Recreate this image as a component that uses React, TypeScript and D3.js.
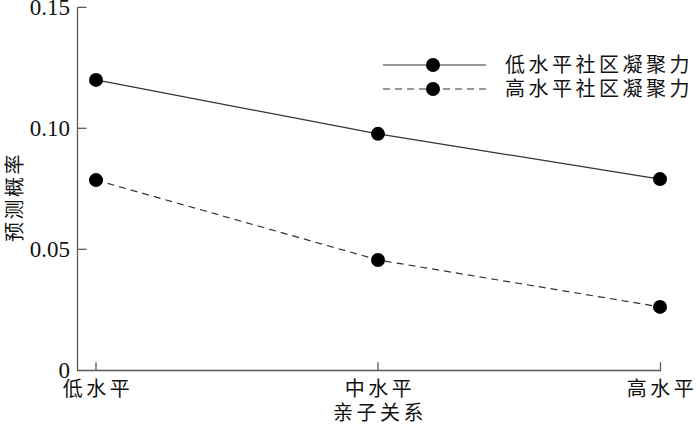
import React from "react";
import * as d3 from "d3";

const categories = ["低水平", "中水平", "高水平"];
const seriesNames = ["低水平社区凝聚力", "高水平社区凝聚力"];
const lowCohesion = [0.12, 0.0977, 0.079];
const highCohesion = [0.0786, 0.0456, 0.0262];
const yTicks = [0, 0.05, 0.1, 0.15];
const yTickLabels = ["0", "0.05", "0.10", "0.15"];
const xTitle = "亲子关系";
const yTitle = "预测概率";

const W = 700;
const H = 426;
const axisColor = "#5a5a5a";
const cjk = "'Noto Sans CJK SC', sans-serif";
const serif = "'Liberation Serif', 'DejaVu Serif', serif";

export default function App() {
  const x = d3.scalePoint<string>().domain(categories).range([96, 660]);
  const y = d3.scaleLinear().domain([0, 0.15]).range([370.3, 7.3]);
  const axisLeft = 77.5;
  const axisRight = 660.5;
  const line = d3
    .line<number>()
    .x((_, i) => x(categories[i]) as number)
    .y((d) => y(d));
  const series = [
    { name: seriesNames[0], values: lowCohesion, dash: undefined as string | undefined },
    { name: seriesNames[1], values: highCohesion, dash: "7,5" },
  ];
  return (
    <svg
      width={W}
      height={H}
      style={{ position: "absolute", left: 0, top: 0, background: "#fff" }}
    >
      <rect width={W} height={H} fill="#fff" />
      {/* axes */}
      <path
        d={`M${axisLeft},${y(0.15)}H${axisLeft + 9}M${axisLeft},${y(0.15)}V${y(0) + 0.2}H${axisRight}V${y(0) - 8}`}
        fill="none"
        stroke={axisColor}
        strokeWidth={1.3}
      />
      {yTicks.map((t, i) => (
        <g key={t}>
          {i > 0 && i < yTicks.length - 1 && (
            <line x1={axisLeft} x2={axisLeft + 9} y1={y(t)} y2={y(t)} stroke={axisColor} strokeWidth={1.3} />
          )}
          <text
            x={70}
            y={y(t)}
            dy="0.35em"
            textAnchor="end"
            fontFamily={serif}
            fontSize={23}
            fill="#111"
          >
            {yTickLabels[i]}
          </text>
        </g>
      ))}
      {categories.map((c, i) => (
        <g key={c}>
          {i < categories.length - 1 && (
            <line
              x1={x(c)}
              x2={x(c)}
              y1={y(0)}
              y2={y(0) - 8}
              stroke={axisColor}
              strokeWidth={1.3}
            />
          )}
          <text
            x={(x(c) as number) + 2}
            y={389}
            dy="0.35em"
            textAnchor="middle"
            fontFamily={cjk}
            fontSize={20}
            letterSpacing={3.5}
            fill="#111"
          >
            {c}
          </text>
        </g>
      ))}
      <text
        x={380}
        y={413}
        dy="0.35em"
        textAnchor="middle"
        fontFamily={cjk}
        fontSize={20}
        letterSpacing={3.5}
        fill="#111"
      >
        {xTitle}
      </text>
      <text
        transform={`translate(15,197) rotate(-90)`}
        dy="0.35em"
        textAnchor="middle"
        fontFamily={cjk}
        fontSize={20}
        letterSpacing={2.5}
        fill="#111"
      >
        {yTitle}
      </text>
      {/* series */}
      {series.map((s) => (
        <g key={s.name}>
          <path
            d={line(s.values) || ""}
            fill="none"
            stroke="#333"
            strokeWidth={1.2}
            strokeDasharray={s.dash}
          />
          {s.values.map((v, i) => (
            <circle key={i} cx={x(categories[i])} cy={y(v)} r={7} fill="#000" />
          ))}
        </g>
      ))}
      {/* legend */}
      {series.map((s, i) => {
        const ly = 65 + i * 24;
        return (
          <g key={"lg" + s.name}>
            <line
              x1={383}
              x2={486}
              y1={ly}
              y2={ly}
              stroke="#333"
              strokeWidth={1.2}
              strokeDasharray={s.dash}
            />
            <circle cx={433} cy={ly} r={7} fill="#000" />
            <text
              x={505}
              y={ly}
              dy="0.35em"
              fontFamily={cjk}
              fontSize={20}
              letterSpacing={3.5}
              fill="#111"
            >
              {s.name}
            </text>
          </g>
        );
      })}
    </svg>
  );
}
